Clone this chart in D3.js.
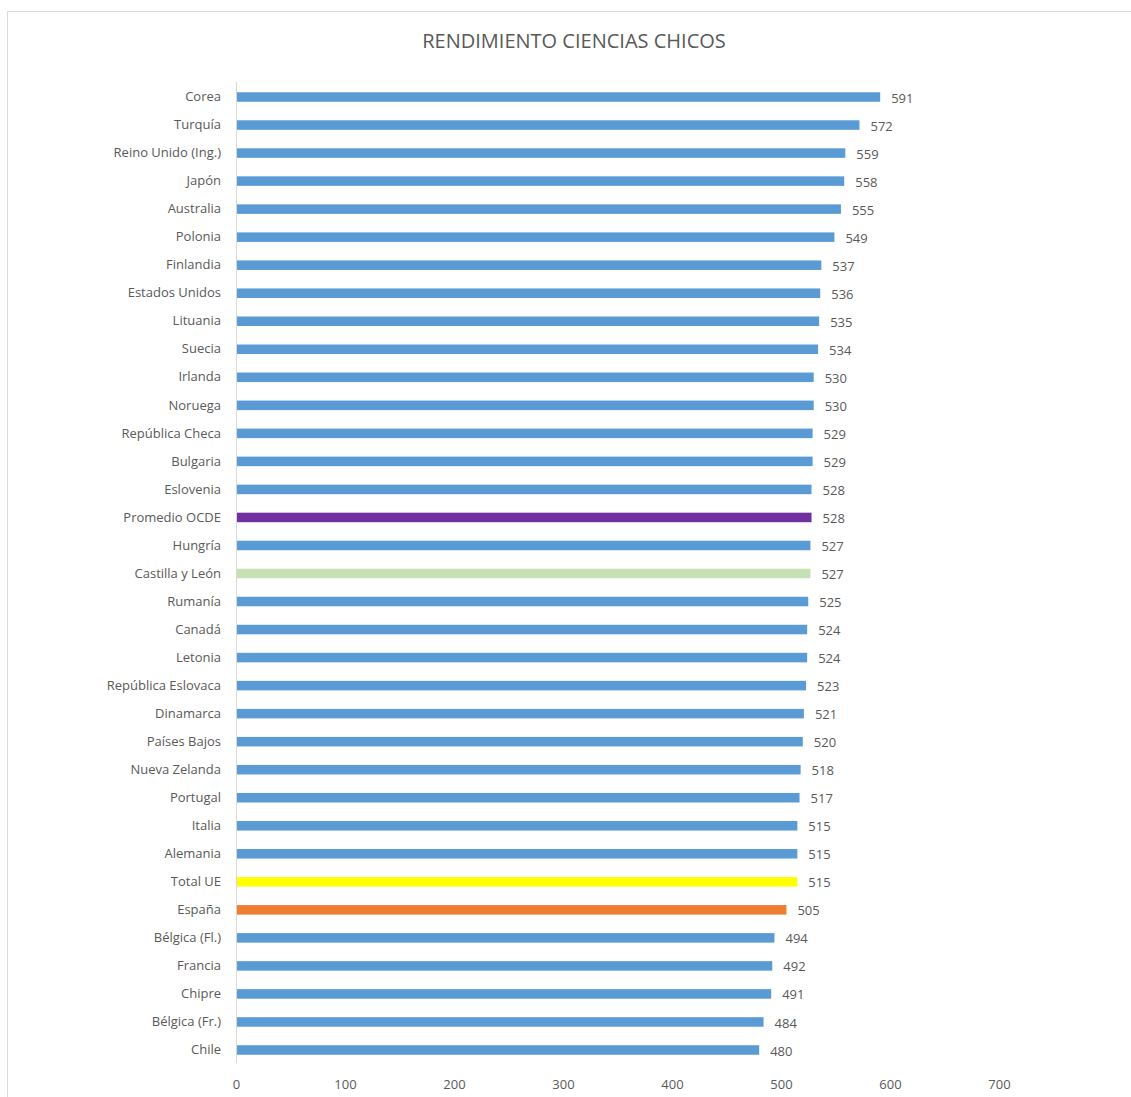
<!DOCTYPE html>
<html>
<head>
<meta charset="utf-8">
<script src="https://cdn.jsdelivr.net/npm/d3@7"></script>
<style>
  body { margin: 0; background: #fff; }
  svg text { font-family: "Open Sans", "Noto Sans", sans-serif; fill: #595959; }
</style>
</head>
<body>
<div id="chart"></div>
<script>
const countries = ['Corea', 'Turquía', 'Reino Unido (Ing.)', 'Japón', 'Australia', 'Polonia',
  'Finlandia', 'Estados Unidos', 'Lituania', 'Suecia', 'Irlanda', 'Noruega', 'República Checa',
  'Bulgaria', 'Eslovenia', 'Promedio OCDE', 'Hungría', 'Castilla y León', 'Rumanía', 'Canadá',
  'Letonia', 'República Eslovaca', 'Dinamarca', 'Países Bajos', 'Nueva Zelanda', 'Portugal',
  'Italia', 'Alemania', 'Total UE', 'España', 'Bélgica (Fl.)', 'Francia', 'Chipre',
  'Bélgica (Fr.)', 'Chile'];
const scores = [591, 572, 559, 558, 555, 549, 537, 536, 535, 534, 530, 530, 529, 529, 528, 528,
  527, 527, 525, 524, 524, 523, 521, 520, 518, 517, 515, 515, 515, 505, 494, 492, 491, 484, 480];
const xTicks = [0, 100, 200, 300, 400, 500, 600, 700];
const highlight = {
  'Promedio OCDE': '#7030A0',
  'Castilla y León': '#C5E0B4',
  'Total UE': '#FFFF00',
  'España': '#ED7D31'
};

const width = 1131, height = 1097;
const svg = d3.select('#chart').append('svg')
  .attr('width', width)
  .attr('height', height);

// chart frame
svg.append('path')
  .attr('d', `M7.5,${height} V11.5 H${width}`)
  .attr('fill', 'none')
  .attr('stroke', '#d9d9d9');

svg.append('text')
  .attr('x', 574).attr('y', 48)
  .attr('text-anchor', 'middle')
  .attr('font-size', 20)
  .text('RENDIMIENTO CIENCIAS CHICOS');

const x = d3.scaleLinear().domain([0, 700]).range([236, 999]);
const y = d3.scaleBand().domain(countries).range([83, 1064]).paddingInner(0.66).paddingOuter(0.33);

const rows = countries.map((c, i) => ({ name: c, value: scores[i] }));

svg.selectAll('rect.bar')
  .data(rows)
  .join('rect')
  .attr('class', 'bar')
  .attr('x', x(0))
  .attr('y', d => y(d.name))
  .attr('width', d => x(d.value) - x(0))
  .attr('height', y.bandwidth())
  .attr('fill', d => highlight[d.name] || '#5B9BD5');

svg.selectAll('text.val')
  .data(rows)
  .join('text')
  .attr('class', 'val')
  .attr('x', d => x(d.value) + 11)
  .attr('y', d => y(d.name) + y.bandwidth() / 2 + 1)
  .attr('dy', '0.35em')
  .attr('font-size', 13)
  .text(d => d.value);

// category axis
const yAxis = svg.append('g')
  .attr('transform', `translate(${x(0)},0)`)
  .call(d3.axisLeft(y).tickSize(0).tickPadding(15));
yAxis.select('.domain').attr('stroke', '#d9d9d9').attr('d', 'M0.5,82V1063');
yAxis.selectAll('text').attr('font-size', 13).attr('fill', '#595959');

// value axis labels only
const xAxis = svg.append('g')
  .attr('transform', 'translate(0,1072)')
  .call(d3.axisBottom(x).tickValues(xTicks).tickSize(0).tickPadding(8));
xAxis.select('.domain').remove();
xAxis.selectAll('text').attr('font-size', 13).attr('fill', '#595959');
</script>
</body>
</html>
